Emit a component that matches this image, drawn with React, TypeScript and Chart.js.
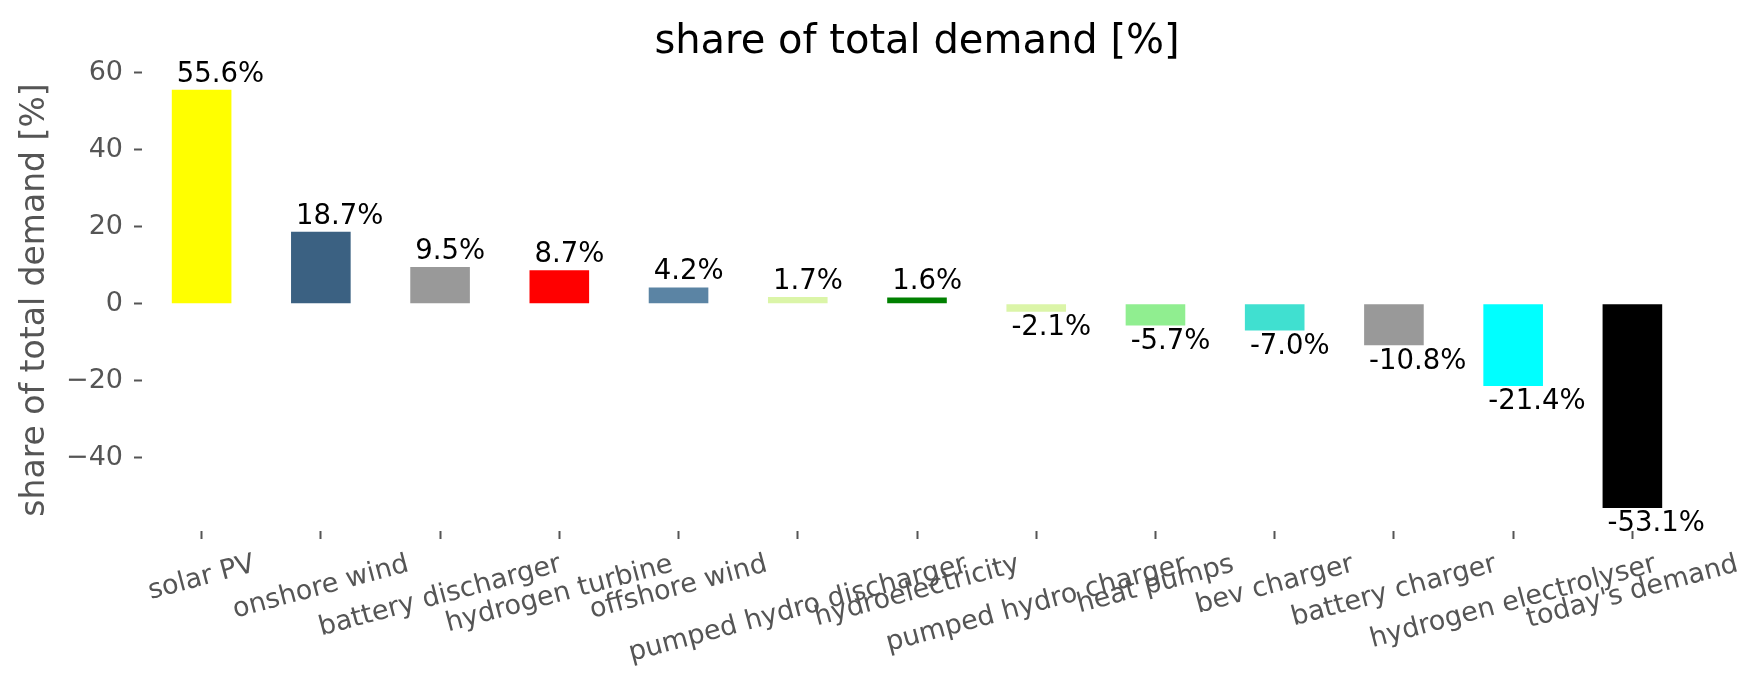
import React, { useEffect, useRef } from "react";
import { Chart, registerables } from "chart.js";

Chart.register(...registerables);

const CATEGORIES = [
  "solar PV",
  "onshore wind",
  "battery discharger",
  "hydrogen turbine",
  "offshore wind",
  "pumped hydro discharger",
  "hydroelectricity",
  "pumped hydro charger",
  "heat pumps",
  "bev charger",
  "battery charger",
  "hydrogen electrolyser",
  "today's demand",
];

const SHARES = [55.6, 18.7, 9.5, 8.7, 4.2, 1.7, 1.6, -2.1, -5.7, -7.0, -10.8, -21.4, -53.1];

const COLORS = [
  "#ffff00",
  "#3b6182",
  "#999999",
  "#ff0000",
  "#5b84a4",
  "#dbf5a8",
  "#008000",
  "#dbf5a8",
  "#90ee90",
  "#40e0d0",
  "#999999",
  "#00ffff",
  "#000000",
];

const Y_TICKS = [-40, -20, 0, 20, 40, 60];
const Y_MIN = -59.1;
const Y_MAX = 61.0;
const TITLE = "share of total demand [%]";
const Y_LABEL = "share of total demand [%]";

const FAMILY = "'DejaVu Sans', 'Liberation Sans', sans-serif";
const W = 1764;
const H = 689;
const PLOT = { left: 142, right: 1692, top: 69, bottom: 531 };
const GREY = "#555555";

export default function App() {
  const ref = useRef<HTMLCanvasElement>(null);

  useEffect(() => {
    const canvas = ref.current;
    if (!canvas) return;

    const overlay = {
      id: "overlay",
      afterDraw(chart: any) {
        const ctx = chart.ctx as CanvasRenderingContext2D;
        const area = chart.chartArea;
        const xScale = chart.scales.x;
        ctx.save();

        // title centred over the axes
        ctx.fillStyle = "#000000";
        ctx.font = `40px ${FAMILY}`;
        ctx.textAlign = "center";
        ctx.textBaseline = "alphabetic";
        ctx.fillText(TITLE, (area.left + area.right) / 2, 52.5);

        // bar value labels
        const meta = chart.getDatasetMeta(0);
        ctx.font = `27.5px ${FAMILY}`;
        ctx.textAlign = "left";
        meta.data.forEach((bar: any, i: number) => {
          const v = SHARES[i];
          const txt = `${v.toFixed(1)}%`;
          const x0 = bar.x - bar.width / 2 + 5;
          const y = v >= 0 ? bar.y - 8 : bar.y + 23.5;
          ctx.fillText(txt, x0, y);
        });

        // rotated category labels
        const fs = 27;
        const theta = (15 * Math.PI) / 180;
        ctx.font = `${fs}px ${FAMILY}`;
        ctx.fillStyle = GREY;
        ctx.textAlign = "center";
        ctx.textBaseline = "alphabetic";
        const top = area.bottom + 20;
        CATEGORIES.forEach((lab, i) => {
          const x = xScale.getPixelForTick(i);
          const w = ctx.measureText(lab).width;
          const h = fs;
          const bh = w * Math.sin(theta) + h * Math.cos(theta);
          const cy = top + bh / 2;
          ctx.save();
          ctx.translate(x, cy);
          ctx.rotate(-theta);
          ctx.fillText(lab, 0, 0.262 * fs);
          ctx.restore();
        });

        ctx.restore();
      },
    };

    const chart = new Chart(canvas, {
      type: "bar",
      data: {
        labels: CATEGORIES,
        datasets: [
          {
            data: SHARES,
            backgroundColor: COLORS,
            borderWidth: 0,
            barPercentage: 0.5,
            categoryPercentage: 1.0,
          },
        ],
      },
      options: {
        responsive: false,
        animation: false,
        devicePixelRatio: 1,
        layout: { padding: { left: 0, top: PLOT.top, right: W - PLOT.right, bottom: 0 } },
        plugins: {
          legend: { display: false },
          tooltip: { enabled: false },
          title: { display: false },
        },
        scales: {
          x: {
            offset: true,
            border: { display: false },
            grid: {
              display: true,
              offset: false,
              drawOnChartArea: false,
              drawTicks: true,
              tickLength: 8,
              tickColor: GREY,
              tickWidth: 2,
            },
            ticks: { display: false },
            afterFit: (s: any) => {
              s.height = H - PLOT.bottom;
            },
          },
          y: {
            min: Y_MIN,
            max: Y_MAX,
            afterBuildTicks: (s: any) => {
              s.ticks = Y_TICKS.map((v) => ({ value: v }));
            },
            border: { display: false },
            grid: {
              display: true,
              drawOnChartArea: false,
              drawTicks: true,
              tickLength: 8,
              tickColor: GREY,
              tickWidth: 2,
            },
            ticks: {
              color: GREY,
              padding: 11,
              font: { family: FAMILY, size: 27 },
              callback: (v: any) => (Number(v) < 0 ? "\u2212" + Math.abs(Number(v)) : String(v)),
            },
            title: {
              display: true,
              text: Y_LABEL,
              color: GREY,
              font: { family: FAMILY, size: 33 },
              padding: { top: 15.5, bottom: 0 },
            },
            afterFit: (s: any) => {
              s.width = PLOT.left;
            },
          },
        },
      },
      plugins: [overlay],
    });

    return () => chart.destroy();
  }, []);

  return (
    <div style={{ position: "fixed", left: 0, top: 0, width: W, height: H, background: "#ffffff" }}>
      <canvas ref={ref} width={W} height={H} style={{ display: "block", width: W, height: H }} />
    </div>
  );
}
